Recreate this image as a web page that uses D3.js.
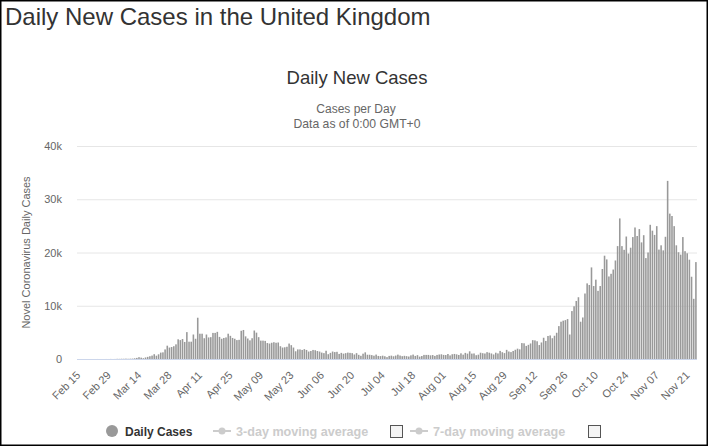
<!DOCTYPE html>
<html>
<head>
<meta charset="utf-8">
<script src="https://cdn.jsdelivr.net/npm/d3@7"></script>
<style>
  body { margin: 0; background: #fff; }
  #chart { width: 708px; height: 446px; }
  text { font-family: "Liberation Sans", Arial, sans-serif; }
</style>
</head>
<body>
<div id="chart"></div>
<script>
// daily new cases, Feb 15 .. Nov 25
const febCases = [1, 0, 0, 0, 0, 0, 0, 0, 0, 4, 0, 0, 2, 5, 3];
const marCases = [13, 4, 11, 34, 29, 48, 45, 69, 43, 62, 77, 130, 208, 342, 251, 152,
    290, 400, 520, 640, 900, 620, 880, 1200, 1250, 1800, 2500, 2150, 2250, 2400, 2750];
const aprCases = [3700, 3550, 3750, 3200, 5050, 3250, 3250, 4600, 3800, 7750,
    4750, 4750, 3900, 4600, 4050, 4100, 4900, 4900, 5100, 4150,
    3800, 3950, 4050, 4750, 4350, 3950, 3800, 3550, 3600, 5300];
const mayCases = [5450, 4250, 3850, 3500, 3900, 5350, 4950, 4100, 3450, 3450,
    3400, 3000, 2900, 3050, 3150, 3050, 3100, 2400, 2150, 2200,
    2300, 2900, 2600, 2150, 1450, 1800, 1800, 1700, 1850, 1700, 1400];
const junCases = [1500, 1700, 1650, 1500, 1400, 1200, 1100, 1550, 900, 1150,
    1400, 1300, 1350, 950, 1150, 1000, 1100, 1200, 1150, 1100,
    850, 1100, 780, 600, 1000, 1250, 800, 800, 730, 620];
const julCases = [829, 576, 544, 624, 516, 352, 581, 630, 512, 642,
    820, 650, 530, 598, 538, 463, 687, 827, 580, 725,
    445, 560, 769, 768, 767, 685, 743, 581, 763, 846, 880];
const augCases = [771, 744, 938, 670, 892, 950, 871, 758, 1062, 816,
    1148, 1009, 1441, 1012, 1040, 713, 812, 1182, 1089, 1033,
    1288, 1184, 1041, 853, 1184, 1048, 1522, 1276, 1108, 1715, 1406];
const sepCases = [1295, 1508, 1735, 1940, 1813, 2988, 2948, 2460, 2659, 2919,
    3539, 3497, 3330, 2621, 3105, 3991, 3395, 4322, 4422, 3899,
    4368, 4926, 6178, 7000, 7200, 7300, 7500, 4600, 9000, 9900];
const octCases = [10900, 11600, 7000, 7800, 12300, 14200, 13900, 17200, 13700, 14900,
    12800, 13700, 16900, 19400, 18700, 15500, 16000, 16800, 18500, 21200,
    26400, 21200, 20500, 23000, 19800, 20900, 22900, 24700, 23100, 24400, 21900];
const novCases = [23250, 18950, 20000, 25200, 24100, 23300, 24950, 20550, 21350, 20400,
    22950, 33450, 27300, 26850, 24950, 21350, 20050, 19600, 22900, 20250,
    19850, 18650, 15450, 11300, 18200];

const yTicks = [0, 10000, 20000, 30000, 40000];
const legendItems = ["Daily Cases", "3-day moving average", "7-day moving average"];

const cases = [].concat(febCases, marCases, aprCases, mayCases, junCases,
    julCases, augCases, sepCases, octCases, novCases);
const startDate = new Date(2020, 1, 15);
const data = cases.map(function (c, i) {
    return { date: d3.timeDay.offset(startDate, i), count: c };
});

const W = 708, H = 446;
const margin = { top: 146, right: 11, bottom: 87, left: 77 };
const width = W - margin.left - margin.right;
const height = H - margin.top - margin.bottom;

const svg = d3.select("#chart").append("svg")
    .attr("width", W)
    .attr("height", H);

svg.append("rect")
    .attr("x", 0.75).attr("y", 0.75)
    .attr("width", W - 1.5).attr("height", H - 1.5)
    .attr("fill", "#fff")
    .attr("stroke", "#000")
    .attr("stroke-width", 1.5);

svg.append("text")
    .attr("x", 5).attr("y", 25)
    .attr("font-size", 24)
    .attr("fill", "#333")
    .text("Daily New Cases in the United Kingdom");

svg.append("text")
    .attr("x", 357).attr("y", 84)
    .attr("text-anchor", "middle")
    .attr("font-size", 18.5)
    .attr("fill", "#333")
    .text("Daily New Cases");

svg.append("text")
    .attr("x", 356).attr("y", 113)
    .attr("text-anchor", "middle")
    .attr("font-size", 12)
    .attr("fill", "#666")
    .text("Cases per Day");

svg.append("text")
    .attr("x", 357).attr("y", 128)
    .attr("text-anchor", "middle")
    .attr("font-size", 12.2)
    .attr("fill", "#666")
    .text("Data as of 0:00 GMT+0");

const g = svg.append("g")
    .attr("transform", "translate(" + margin.left + "," + margin.top + ")");

const x = d3.scaleBand()
    .domain(data.map(function (d) { return d.date; }))
    .range([0, width])
    .paddingInner(0.28)
    .paddingOuter(0.14);

const y = d3.scaleLinear()
    .domain([0, 40000])
    .range([height, 0]);

// grid
g.append("g")
    .attr("class", "grid")
    .call(d3.axisLeft(y).tickValues(yTicks).tickSize(-width).tickFormat(""))
    .call(function (s) { s.select(".domain").remove(); })
    .selectAll("line")
    .attr("stroke", "#e6e6e6");

// y labels
const yAxis = g.append("g")
    .call(d3.axisLeft(y).tickValues(yTicks).tickSize(0).tickPadding(15)
        .tickFormat(function (d) { return d === 0 ? "0" : d / 1000 + "k"; }));
yAxis.select(".domain").remove();
yAxis.selectAll("text")
    .attr("font-family", "Liberation Sans, Arial, sans-serif")
    .attr("font-size", 11)
    .attr("fill", "#666");

g.append("text")
    .attr("transform", "translate(-47," + height / 2 + ") rotate(-90)")
    .attr("text-anchor", "middle")
    .attr("font-size", 11)
    .attr("fill", "#666")
    .text("Novel Coronavirus Daily Cases");

// bars
g.selectAll(".bar")
    .data(data)
    .enter().append("rect")
    .attr("class", "bar")
    .attr("x", function (d) { return x(d.date); })
    .attr("width", x.bandwidth())
    .attr("y", function (d) { return y(d.count); })
    .attr("height", function (d) { return height - y(d.count); })
    .attr("fill", "#999");

// x axis
const tickDates = data.filter(function (d, i) { return i % 14 === 0; })
    .map(function (d) { return d.date; });
const xAxis = g.append("g")
    .attr("transform", "translate(0," + height + ")")
    .call(d3.axisBottom(x).tickValues(tickDates).tickSize(0)
        .tickFormat(d3.timeFormat("%b %d")));
xAxis.select(".domain")
    .attr("stroke", "#ccd6eb")
    .attr("d", "M0,0.5H" + width);
xAxis.selectAll("text")
    .attr("font-family", "Liberation Sans, Arial, sans-serif")
    .attr("font-size", 11)
    .attr("fill", "#666")
    .attr("text-anchor", "end")
    .attr("dy", null)
    .attr("y", 0)
    .attr("transform", "translate(3,17) rotate(-45)");

// legend
const legend = svg.append("g").attr("transform", "translate(0,431)");
legend.append("circle")
    .attr("cx", 112).attr("cy", 0).attr("r", 6)
    .attr("fill", "#999");
legend.append("text")
    .attr("x", 125).attr("y", 4.5)
    .attr("font-size", 12)
    .attr("font-weight", "bold")
    .attr("fill", "#333")
    .text(legendItems[0]);

[{ sx: 213, tx: 236, bx: 390 }, { sx: 410, tx: 433, bx: 588 }].forEach(function (p, i) {
    legend.append("line")
        .attr("x1", p.sx).attr("x2", p.sx + 18)
        .attr("y1", 0).attr("y2", 0)
        .attr("stroke", "#ccc").attr("stroke-width", 2);
    legend.append("circle")
        .attr("cx", p.sx + 9).attr("cy", 0).attr("r", 3.5)
        .attr("fill", "#ccc");
    legend.append("text")
        .attr("x", p.tx).attr("y", 4.5)
        .attr("font-size", 12.6)
        .attr("font-weight", "bold")
        .attr("fill", "#ccc")
        .text(legendItems[i + 1]);
    legend.append("rect")
        .attr("x", p.bx + 0.5).attr("y", -5.5)
        .attr("width", 12).attr("height", 12)
        .attr("fill", "#f4f4f4")
        .attr("stroke", "#555");
});
</script>
</body>
</html>
